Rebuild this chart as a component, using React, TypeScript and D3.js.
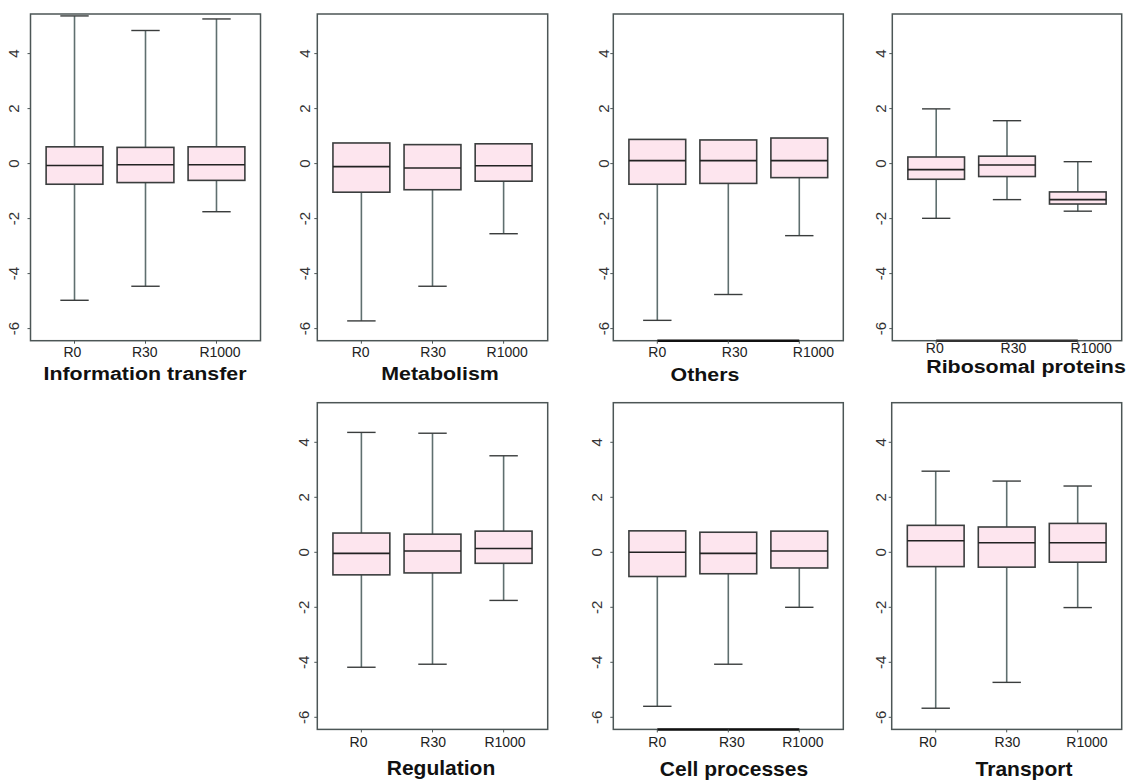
import React from "react";
import * as d3 from "d3";

// ---- data ----
const categories = ["R0", "R30", "R1000"];
const yTicks = [-6, -4, -2, 0, 2, 4];
const yDomain: [number, number] = [-6.44, 5.44];

// each row: [lower whisker, Q1, median, Q3, upper whisker]
const infoTransfer = [
  [-4.97, -0.75, -0.07, 0.61, 5.37],
  [-4.46, -0.69, -0.04, 0.59, 4.84],
  [-1.75, -0.61, -0.04, 0.61, 5.26],
];
const metabolism = [
  [-5.72, -1.04, -0.11, 0.75, 0.75],
  [-4.46, -0.95, -0.16, 0.69, 0.69],
  [-2.55, -0.64, -0.08, 0.72, 0.72],
];
const others = [
  [-5.7, -0.75, 0.11, 0.88, 0.88],
  [-4.76, -0.72, 0.11, 0.86, 0.86],
  [-2.62, -0.51, 0.11, 0.93, 0.93],
];
const ribosomalProteins = [
  [-1.99, -0.57, -0.22, 0.24, 1.99],
  [-1.31, -0.47, -0.05, 0.27, 1.56],
  [-1.73, -1.47, -1.31, -1.03, 0.07],
];
const regulation = [
  [-4.18, -0.82, -0.04, 0.7, 4.36],
  [-4.07, -0.75, 0.05, 0.66, 4.33],
  [-1.75, -0.4, 0.14, 0.77, 3.51],
];
const cellProcesses = [
  [-5.6, -0.88, 0.0, 0.78, 0.78],
  [-4.07, -0.78, -0.04, 0.73, 0.73],
  [-2.0, -0.57, 0.05, 0.77, 0.77],
];
const transport = [
  [-5.67, -0.52, 0.42, 0.98, 2.95],
  [-4.73, -0.54, 0.35, 0.92, 2.59],
  [-2.01, -0.36, 0.35, 1.05, 2.41],
];

// ---- layout (positions / styles only) ----
type Panel = {
  title: string;
  stats: number[][];
  left: number;
  top: number;
  width: number;
  height: number;
  yLabOff: number;
  labPos: number[];
  labBase: number;
  titleX: number;
  titleBase: number;
  row1: boolean;
  axisLine: string | null;
};

const H = 326.7;
const panels: Panel[] = [
  { title: "Information transfer", stats: infoTransfer, left: 30.5, top: 14, width: 230, height: H, yLabOff: 17, labPos: [0.97, 1.99, 3.05], labBase: 356.5, titleX: 145, titleBase: 380, row1: true, axisLine: null },
  { title: "Metabolism", stats: metabolism, left: 317.3, top: 14, width: 230.4, height: H, yLabOff: 12.5, labPos: [0.99, 2.01, 3.05], labBase: 356.5, titleX: 440, titleBase: 380, row1: true, axisLine: null },
  { title: "Others", stats: others, left: 613.3, top: 14, width: 230, height: H, yLabOff: 9.5, labPos: [1.0, 2.09, 3.2], labBase: 356.5, titleX: 705, titleBase: 381, row1: true, axisLine: "#111" },
  { title: "Ribosomal proteins", stats: ribosomalProteins, left: 892.3, top: 14, width: 229.4, height: H, yLabOff: 12, labPos: [0.98, 2.09, 3.19], labBase: 352.5, titleX: 1026, titleBase: 373, row1: true, axisLine: "#333" },
  { title: "Regulation", stats: regulation, left: 317.3, top: 402.7, width: 230.4, height: H, yLabOff: 14, labPos: [0.96, 2.01, 3.02], labBase: 747, titleX: 441, titleBase: 774.5, row1: false, axisLine: null },
  { title: "Cell processes", stats: cellProcesses, left: 613.3, top: 402.7, width: 230, height: H, yLabOff: 16.5, labPos: [1.0, 2.05, 3.05], labBase: 747, titleX: 734, titleBase: 775.5, row1: false, axisLine: "#111" },
  { title: "Transport", stats: transport, left: 891.7, top: 402.7, width: 230, height: H, yLabOff: 11.5, labPos: [0.89, 2.01, 3.13], labBase: 747, titleX: 1024, titleBase: 775.5, row1: false, axisLine: null },
];

const FONT = "'Liberation Sans', Arial, Helvetica, sans-serif";
const FILL = "#fde5ee";
const BOX_STROKE = "#3a3d3d";
const WHISK = "#5f6f6f";
const FRAME = "#4c5656";

function BoxPanel({ p }: { p: Panel }) {
  const x = d3.scaleLinear().domain([0.38, 3.62]).range([p.left, p.left + p.width]);
  const y = d3.scaleLinear().domain(yDomain).range([p.top + p.height, p.top]);
  const bw = 0.8;
  const cw = 0.4;
  const bottom = p.top + p.height;
  return (
    <g>
      {/* y ticks */}
      {yTicks.map((t) => (
        <g key={t}>
          <line x1={p.left - 3} x2={p.left} y1={y(t)} y2={y(t)} stroke={FRAME} strokeWidth={1} />
          <text
            transform={`translate(${p.left - p.yLabOff},${y(t)}) rotate(-90)`}
            textAnchor="middle"
            dominantBaseline="central"
            fontFamily={FONT}
            fontSize={15}
            fill="#333"
          >
            {t}
          </text>
        </g>
      ))}
      {/* boxes */}
      {p.stats.map((s, i) => {
        const c = i + 1;
        const [lo, q1, med, q3, hi] = s;
        return (
          <g key={i}>
            <line x1={x(c)} x2={x(c)} y1={y(hi)} y2={y(q3)} stroke={WHISK} strokeWidth={1.6} />
            <line x1={x(c)} x2={x(c)} y1={y(q1)} y2={y(lo)} stroke={WHISK} strokeWidth={1.6} />
            {hi > q3 && (
              <line x1={x(c - cw / 2)} x2={x(c + cw / 2)} y1={y(hi)} y2={y(hi)} stroke={BOX_STROKE} strokeWidth={1.4} />
            )}
            <line x1={x(c - cw / 2)} x2={x(c + cw / 2)} y1={y(lo)} y2={y(lo)} stroke={BOX_STROKE} strokeWidth={1.4} />
            <rect
              x={x(c - bw / 2)}
              width={x(c + bw / 2) - x(c - bw / 2)}
              y={y(q3)}
              height={y(q1) - y(q3)}
              fill={FILL}
              stroke={BOX_STROKE}
              strokeWidth={1.6}
            />
            <line x1={x(c - bw / 2)} x2={x(c + bw / 2)} y1={y(med)} y2={y(med)} stroke="#222" strokeWidth={1.6} />
          </g>
        );
      })}
      {/* frame */}
      <rect x={p.left} y={p.top} width={p.width} height={p.height} fill="none" stroke={FRAME} strokeWidth={1.5} />
      {p.axisLine && (
        <line x1={x(1)} x2={x(3)} y1={bottom} y2={bottom} stroke={p.axisLine} strokeWidth={2.5} />
      )}
      {/* x ticks & labels */}
      {categories.map((c, i) => (
        <g key={c}>
          <line x1={x(i + 1)} x2={x(i + 1)} y1={bottom} y2={bottom + 3} stroke={FRAME} strokeWidth={1} />
          <text x={x(p.labPos[i])} y={p.labBase} textAnchor="middle" fontFamily={FONT} fontSize={14} fill="#222">
            {c}
          </text>
        </g>
      ))}
      {/* title */}
      {p.row1 ? (
        <text
          transform={`translate(${p.titleX},${p.titleBase}) scale(1.15,1)`}
          textAnchor="middle"
          fontFamily={FONT}
          fontWeight="bold"
          fontSize={18.6}
          fill="#111"
        >
          {p.title}
        </text>
      ) : (
        <text x={p.titleX} y={p.titleBase} textAnchor="middle" fontFamily={FONT} fontWeight="bold" fontSize={21} fill="#111">
          {p.title}
        </text>
      )}
    </g>
  );
}

export default function App() {
  return (
    <div style={{ position: "absolute", left: 0, top: 0 }}>
      <svg width={1129} height={780} style={{ display: "block", background: "#fff" }}>
        {panels.map((p) => (
          <BoxPanel key={p.title} p={p} />
        ))}
      </svg>
    </div>
  );
}
